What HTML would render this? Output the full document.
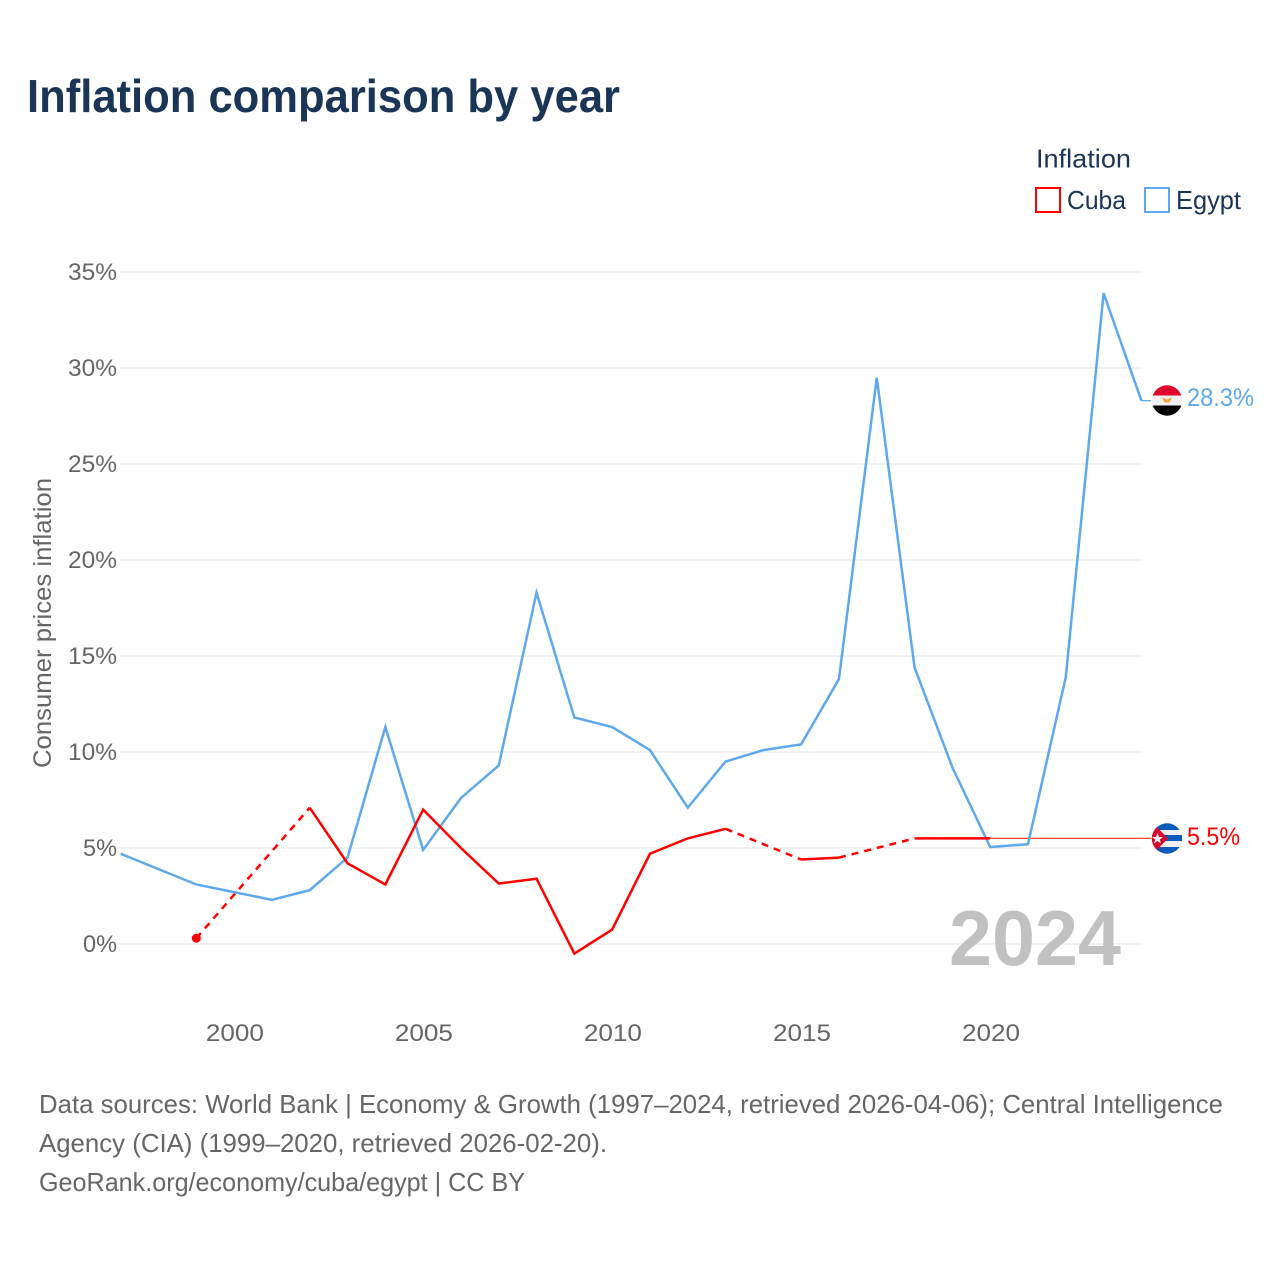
<!DOCTYPE html>
<html lang="en">
<head>
<meta charset="utf-8">
<title>Inflation comparison by year</title>
<style>
  html, body { margin: 0; padding: 0; background: #fff; width: 1280px; height: 1280px; overflow: hidden; }
  svg { display: block; font-family: "Liberation Sans", sans-serif; }
</style>
</head>
<body>
<svg id="chart" xmlns="http://www.w3.org/2000/svg" width="1280" height="1280" viewBox="0 0 1280 1280">
  <defs>
    <clipPath id="clip-egypt"><circle cx="1167" cy="400.5" r="15.2"/></clipPath>
    <clipPath id="clip-cuba"><circle cx="1167" cy="838.5" r="15.2"/></clipPath>
  </defs>
  <rect x="0" y="0" width="1280" height="1280" fill="#fff"/>
  <text x="27" y="112" font-size="46" font-weight="700" fill="#1b3556" textLength="593" lengthAdjust="spacingAndGlyphs">Inflation comparison by year</text>

  <g>
    <text x="1036" y="167.5" font-size="26" fill="#1b3556" textLength="95" lengthAdjust="spacingAndGlyphs">Inflation</text>
    <g>
      <rect x="1036" y="188" width="24" height="24" fill="#fff" stroke="#ff0000" stroke-width="2"/>
      <text x="1067" y="209" font-size="26" fill="#1b3556" textLength="59" lengthAdjust="spacingAndGlyphs">Cuba</text>
    </g>
    <g>
      <rect x="1145" y="188" width="24" height="24" fill="#fff" stroke="#5ea8ee" stroke-width="2"/>
      <text x="1176" y="209" font-size="26" fill="#1b3556" textLength="65" lengthAdjust="spacingAndGlyphs">Egypt</text>
    </g>
  </g>

  <g id="grid"></g>
  <g id="y-axis"></g>
  <g id="x-axis"></g>
  <text transform="translate(51 768) rotate(-90)" x="0" y="0" font-size="25" fill="#666" textLength="290" lengthAdjust="spacingAndGlyphs">Consumer prices inflation</text>
  <text x="949" y="965" font-size="78" font-weight="700" fill="#c1c1c1" textLength="172" lengthAdjust="spacingAndGlyphs">2024</text>
  <g id="series"></g>

  <g>
    <g clip-path="url(#clip-egypt)">
      <rect x="1150" y="385" width="34" height="10.5" fill="#e0072f"/>
      <rect x="1150" y="395.5" width="34" height="10" fill="#f0f0f0"/>
      <rect x="1150" y="405.5" width="34" height="11" fill="#000"/>
      <path d="M1162 397.5 L1167 399.5 L1172 397.5 L1169.5 402.5 L1164.5 402.5 Z" fill="#f5a23c"/>
    </g>
    <text id="label-egypt" x="1187" y="406" font-size="25" fill="#5ea8ee" textLength="67" lengthAdjust="spacingAndGlyphs">28.3%</text>
  </g>
  <g>
    <g clip-path="url(#clip-cuba)">
      <rect x="1150" y="822" width="34" height="33" fill="#f0f0f0"/>
      <rect x="1150" y="822" width="34" height="8" fill="#0a5bbb"/>
      <rect x="1150" y="835" width="34" height="6" fill="#0a5bbb"/>
      <rect x="1150" y="847" width="34" height="7" fill="#0a5bbb"/>
      <path d="M1150 820 L1168 838.5 L1150 857 Z" fill="#d8062f"/>
      <path d="M1157.5 833 L1159 837 L1163 837 L1159.8 839.5 L1161 843.5 L1157.5 841 L1154 843.5 L1155.2 839.5 L1152 837 L1156 837 Z" fill="#f4f4f4"/>
    </g>
    <text id="label-cuba" x="1187" y="845" font-size="25" fill="#ff0000" textLength="53" lengthAdjust="spacingAndGlyphs">5.5%</text>
  </g>

  <g>
    <text x="39" y="1113" font-size="26" fill="#666" textLength="1184" lengthAdjust="spacingAndGlyphs">Data sources: World Bank | Economy &amp; Growth (1997–2024, retrieved 2026-04-06); Central Intelligence</text>
    <text x="39" y="1152" font-size="26" fill="#666" textLength="568" lengthAdjust="spacingAndGlyphs">Agency (CIA) (1999–2020, retrieved 2026-02-20).</text>
    <text x="39" y="1191" font-size="26" fill="#666" textLength="486" lengthAdjust="spacingAndGlyphs">GeoRank.org/economy/cuba/egypt | CC BY</text>
  </g>
</svg>
<script>
const years = [1997,1998,1999,2000,2001,2002,2003,2004,2005,2006,2007,2008,2009,2010,2011,2012,2013,2014,2015,2016,2017,2018,2019,2020,2021,2022,2023,2024];
const egyptValues = [4.7,3.9,3.1,2.7,2.3,2.8,4.5,11.3,4.9,7.6,9.3,18.3,11.8,11.3,10.1,7.1,9.5,10.1,10.4,13.8,29.5,14.4,9.2,5.05,5.2,13.9,33.9,28.3];
const cubaValues = [null,null,0.3,null,null,7.1,4.2,3.1,7.0,5.0,3.15,3.4,-0.5,0.75,4.7,5.5,6.0,null,4.4,4.5,null,5.5,5.5,5.5,null,null,null,null];
const yTickValues = [0,5,10,15,20,25,30,35];
const xTickValues = [2000,2005,2010,2015,2020];
const cubaLatest = 5.5;
const egyptLatest = 28.3;

const NS = 'http://www.w3.org/2000/svg';
const RED = '#ff0000';
const BLUE = '#5ea8ee';
const X0 = 120.7, X1 = 1141.4, Y0 = 944, PX_PER_PCT = 19.2, FLAG_X = 1151;

function xScale(year) { return X0 + (year - years[0]) * (X1 - X0) / (years[years.length - 1] - years[0]); }
function yScale(v) { return Y0 - v * PX_PER_PCT; }
function make(tag, parent, attrs, text) {
  const el = document.createElementNS(NS, tag);
  for (const k in attrs) el.setAttribute(k, attrs[k]);
  if (text !== undefined) el.textContent = text;
  parent.appendChild(el);
  return el;
}

const gridG = document.getElementById('grid');
const yAxisG = document.getElementById('y-axis');
const xAxisG = document.getElementById('x-axis');
const seriesG = document.getElementById('series');

yTickValues.forEach(function (v) {
  const line = make('line', gridG, { x1: X0, x2: 1142, y1: yScale(v), y2: yScale(v), stroke: '#eeeeee', 'stroke-width': 1.6 });
  
  
  const s = v + '%';
  const label = make('text', yAxisG, { x: 117, y: yScale(v) + 8, 'font-size': 24, fill: '#666', 'text-anchor': 'end', textLength: s.length === 3 ? 49 : 34, lengthAdjust: 'spacingAndGlyphs' }, s);
  
  
});

xTickValues.forEach(function (year) {
  const label = make('text', xAxisG, { x: xScale(year) + 0.8, y: 1041, 'font-size': 24, fill: '#666', 'text-anchor': 'middle', textLength: 58, lengthAdjust: 'spacingAndGlyphs' }, String(year));
  
  
});

function pathFrom(points) {
  return points.map(function (p, i) { return (i ? 'L' : 'M') + xScale(p[0]).toFixed(2) + ' ' + yScale(p[1]).toFixed(2); }).join(' ');
}

/* connector lines from the last value to the flag */
const cubaPts = [];
cubaValues.forEach(function (v, i) { if (v !== null) cubaPts.push([years[i], v, i]); });
const lastCuba = cubaPts[cubaPts.length - 1];

const cubaConnector = make('line', seriesG, { x1: xScale(lastCuba[0]), x2: FLAG_X, y1: yScale(cubaLatest), y2: yScale(cubaLatest), stroke: RED, 'stroke-width': 1.3, 'stroke-opacity': 0.75 });



const egyptConnector = make('line', seriesG, { x1: X1, x2: FLAG_X, y1: yScale(egyptLatest), y2: yScale(egyptLatest), stroke: BLUE, 'stroke-width': 1.3 });



/* Egypt */
const egyptPts = years.map(function (y, i) { return [y, egyptValues[i]]; });
const egyptLine = make('path', seriesG, { d: pathFrom(egyptPts), fill: 'none', stroke: BLUE, 'stroke-width': 2.5, 'stroke-linejoin': 'miter' });



/* Cuba: solid runs over consecutive years, dashed across data gaps */
let run = [cubaPts[0]];
function flushRun() {
  if (run.length > 1) {
    const solid = make('path', seriesG, { d: pathFrom(run), fill: 'none', stroke: RED, 'stroke-width': 2.5, 'stroke-linejoin': 'miter' });
    
    
  }
}
for (let i = 1; i < cubaPts.length; i++) {
  const prev = cubaPts[i - 1], cur = cubaPts[i];
  if (cur[2] - prev[2] === 1) {
    run.push(cur);
  } else {
    flushRun();
    const gap = make('path', seriesG, { d: pathFrom([prev, cur]), fill: 'none', stroke: RED, 'stroke-width': 2.5, 'stroke-dasharray': '7 6' });
    
    
    run = [cur];
  }
}
flushRun();

const startDot = make('circle', seriesG, { cx: xScale(cubaPts[0][0]), cy: yScale(cubaPts[0][1]), r: 4.5, fill: RED });



document.getElementById('label-cuba').textContent = cubaLatest.toFixed(1) + '%';
document.getElementById('label-egypt').textContent = egyptLatest.toFixed(1) + '%';
</script>
</body>
</html>
